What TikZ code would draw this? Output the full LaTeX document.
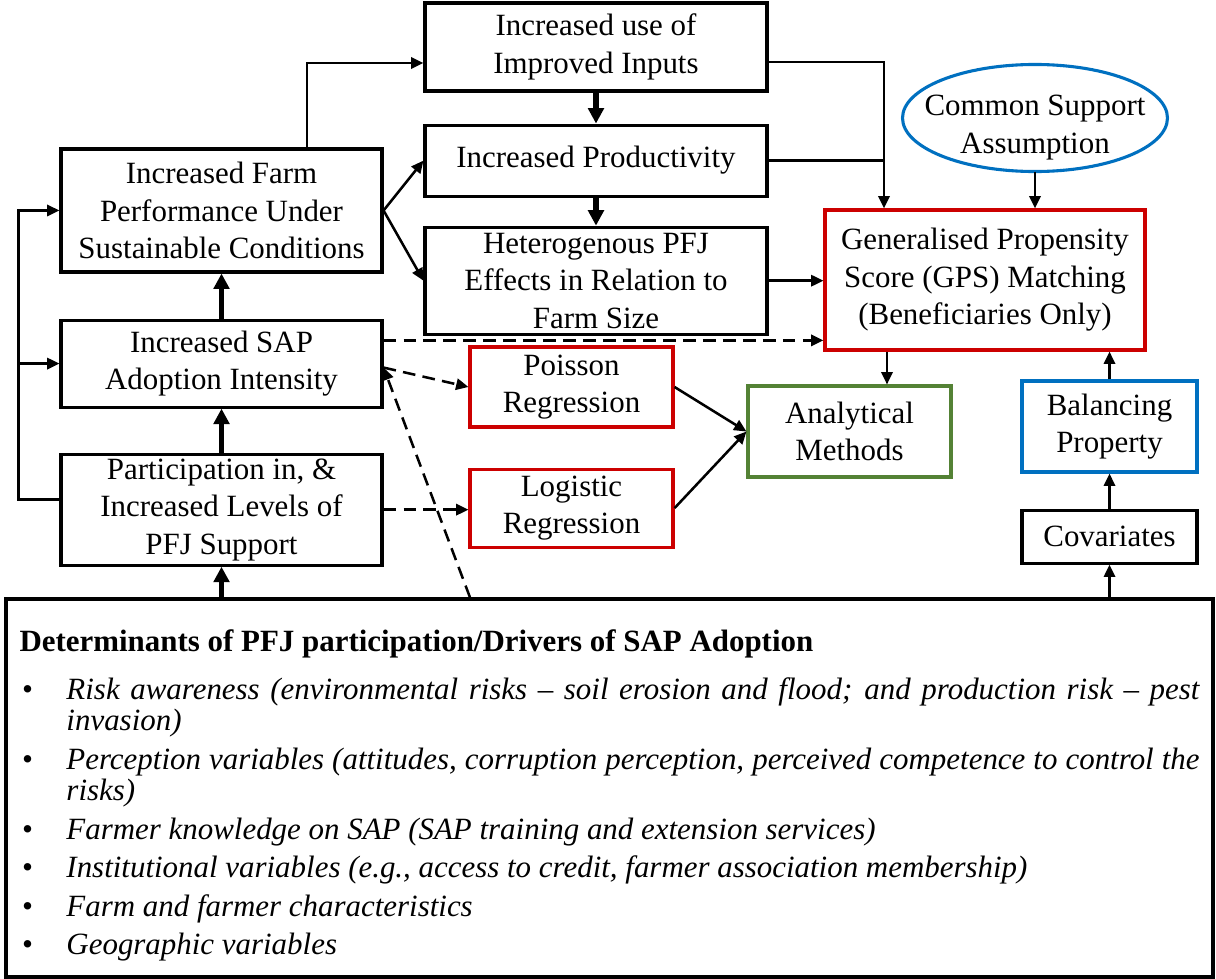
\documentclass[tikz,border=0pt]{standalone}
\usepackage{fontspec}
\setmainfont{Liberation Serif}
\usepackage{xcolor}
\usetikzlibrary{positioning,arrows.meta,shapes.geometric}

\definecolor{boxred}{RGB}{204,0,0}
\definecolor{boxblue}{RGB}{0,112,192}
\definecolor{boxgreen}{RGB}{84,130,53}

\begin{document}
\begin{tikzpicture}[
    font=\fontsize{11}{13.3}\selectfont,
    >={Triangle[length=4.4pt,width=4pt]},
    line width=0.9pt,
    box/.style={draw=black, rectangle, align=center, line width=1.1pt, inner sep=1pt},
    redbox/.style={box, draw=boxred},
    bluebox/.style={box, draw=boxblue},
    greenbox/.style={box, draw=boxgreen},
    oval/.style={draw=boxblue, line width=1.1pt},
    thk/.style={line width=1.8pt, -{Triangle[length=5.5pt,width=5.5pt]}},
    dsh/.style={dash pattern=on 4.5pt off 2.6pt}
  ]
    \useasboundingbox (0,0) rectangle (15.2,-12.2375);

    \node[box, minimum width=4.275cm, minimum height=1.1cm] (inputs) at (7.45,-0.5875)
      {Increased use of\\Improved Inputs};
    \node[box, minimum width=4.275cm, minimum height=0.8875cm, below=0.3875cm of inputs] (prod)
      {Increased Productivity};
    \node[box, minimum width=4.275cm, minimum height=1.3375cm, below=0.35cm of prod] (hetero)
      {Heterogenous PFJ\\Effects in Relation to\\Farm Size};
    \node[box, minimum width=4.0125cm, minimum height=1.5375cm] (farm) at (2.769,-2.631)
      {Increased Farm\\Performance Under\\Sustainable Conditions};
    \node[box, minimum width=4.0125cm, minimum height=1.0875cm, below=0.5625cm of farm] (sap)
      {Increased SAP\\Adoption Intensity};
    \node[box, minimum width=4.0125cm, minimum height=1.3875cm, below=0.55cm of sap] (part)
      {Participation in, \&\\Increased Levels of\\PFJ Support};
    \node[redbox, minimum width=4cm, minimum height=1.75cm] (gps) at (12.3125,-3.5)
      {Generalised Propensity\\Score (GPS) Matching\\(Beneficiaries Only)};
    % ellipse drawn round its label
    \coordinate (csac) at (12.9375,-1.475);
    \draw[oval] (csac) ellipse [x radius=1.656cm, y radius=0.669cm];
    \node[align=center] (csa) at ([yshift=-0.12cm]csac) {Common Support\\Assumption};
    \node[redbox, minimum width=2.5375cm, minimum height=1cm] (poisson) at (7.144,-4.8375)
      {Poisson\\Regression};
    \node[redbox, minimum width=2.5375cm, minimum height=0.975cm, below=0.4875cm of poisson] (logit)
      {Logistic\\Regression};
    \node[greenbox, minimum width=2.5375cm, minimum height=1.1375cm] (methods) at (10.619,-5.394)
      {Analytical\\Methods};
    \node[bluebox, minimum width=2.1875cm, minimum height=1.1375cm] (balance) at (13.869,-5.331)
      {Balancing\\Property};
    \node[box, minimum width=2.1875cm, minimum height=0.6625cm, below=0.4375cm of balance] (covar)
      {Covariates};
    \node[box, minimum width=15.0875cm, minimum height=4.725cm, text width=14.75cm,
          align=justify] (det) at (7.619,-9.85) {%
      \setlength{\parindent}{0pt}\fontsize{11}{11.2}\selectfont
      \rule{0pt}{13pt}{\bfseries Determinants of PFJ participation/Drivers of SAP Adoption}\par
      \begin{list}{\textbullet}{\setlength{\leftmargin}{16.7pt}\setlength{\labelsep}{12pt}%
          \setlength{\labelwidth}{4.7pt}\setlength{\itemsep}{2.5pt}\setlength{\parsep}{0pt}%
          \setlength{\topsep}{6pt}\setlength{\partopsep}{0pt}}
        \itshape
        \item Risk awareness (environmental risks -- soil erosion and flood; and production risk -- pest\linebreak invasion)
        \item Perception variables (attitudes, corruption perception, perceived competence to control the\linebreak risks)
        \item Farmer knowledge on SAP (SAP training and extension services)
        \item Institutional variables (e.g., access to credit, farmer association membership)
        \item Farm and farmer characteristics
        \item Geographic variables
      \end{list}};

    % left feedback line
    \draw[->] ([yshift=0.13cm]part.west) -- ++(-0.5125cm,0) coordinate (lp) |- (farm.west);
    \draw[->] (lp |- sap.west) -- (sap.west);

    % main column
    \draw[thk] (det.north -| part.south) -- (part.south);
    \draw[thk] (part) -- (sap);
    \draw[thk] (sap) -- (farm);
    \draw[->] ([xshift=1.07cm]farm.north) |- ([yshift=-0.2cm]inputs.west);
    \draw[->] (farm.east) -- (prod.west);
    \draw[->] (farm.east) -- (hetero.west);
    \draw[thk] (inputs) -- (prod);
    \draw[thk] (prod) -- (hetero);

    % into the GPS box
    \draw[->] ([yshift=-0.19cm]inputs.east) -| ([xshift=-1.2625cm]gps.north);
    \draw (prod.east) -- ([xshift=-1.2625cm]gps.north |- prod.east);
    \draw[->] (hetero.east) -- (hetero.east -| gps.west);
    \draw[->] ([yshift=-0.669cm]csac) -- (csac |- gps.north);

    % dashed links
    \draw[dsh,->] ([yshift=0.29cm]sap.east) -- ([yshift=0.29cm]sap.east -| gps.west);
    \draw[dsh,->] ([yshift=-0.05cm]sap.east) -- (poisson.west);
    \draw[dsh,->] (part.east) -- (part.east -| logit.west);
    \draw[dsh,->] ([xshift=-1.744cm]det.north) -- ([yshift=-0.05cm]sap.east);

    % methods and matching
    \draw[->] (poisson.east) -- (methods.west);
    \draw[->] (logit.east) -- (methods.west);
    \draw[->] ([xshift=-1.225cm]gps.south) -- ([xshift=-1.225cm]gps.south |- methods.north);
    \draw[->] (balance) -- (balance |- gps.south);
    \draw[->] (covar) -- (balance);
    \draw[->] (det.north -| covar) -- (covar);
  \end{tikzpicture}
\end{document}
